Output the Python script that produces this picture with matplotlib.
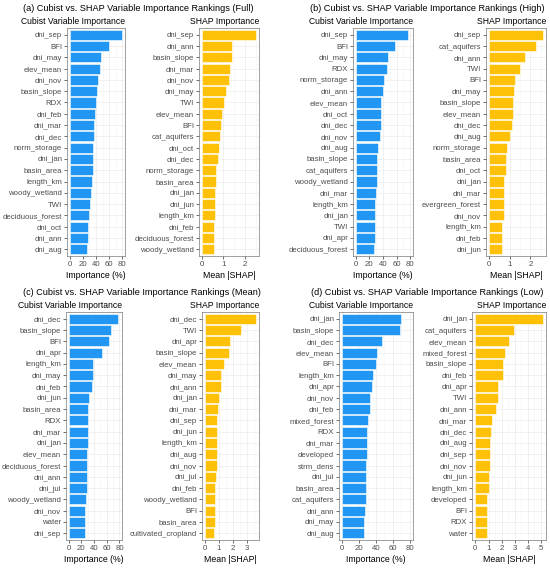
import matplotlib.pyplot as plt

plt.rcParams['font.family'] = ['Liberation Sans', 'DejaVu Sans']

BLUE = "#2196F3"
AMBER = "#FFC107"

# (a) Full
full_cubist_vars = ["dni_sep", "BFI", "dni_may", "elev_mean", "dni_nov", "basin_slope", "RDX",
                    "dni_feb", "dni_mar", "dni_dec", "norm_storage", "dni_jan", "basin_area",
                    "length_km", "woody_wetland", "TWI", "deciduous_forest", "dni_oct",
                    "dni_ann", "dni_aug"]
full_cubist_vals = [79.5, 60, 48, 45.6, 43.7, 40.8, 40.3, 38.3, 36.4, 36.4, 36, 35.4, 35.4,
                    33.5, 32.5, 31.6, 29, 27.7, 27.7, 26.2]
full_shap_vars = ["dni_sep", "dni_ann", "basin_slope", "dni_mar", "dni_nov", "dni_may", "TWI",
                  "elev_mean", "BFI", "cat_aquifers", "dni_oct", "dni_dec", "norm_storage",
                  "basin_area", "dni_jan", "dni_jun", "length_km", "dni_feb",
                  "deciduous_forest", "woody_wetland"]
full_shap_vals = [2.52, 1.42, 1.38, 1.29, 1.28, 1.12, 1.02, 0.92, 0.88, 0.85, 0.82, 0.74, 0.65,
                  0.65, 0.63, 0.63, 0.63, 0.58, 0.58, 0.55]

# (b) High
high_cubist_vars = ["dni_sep", "BFI", "dni_may", "RDX", "norm_storage", "dni_ann", "elev_mean",
                    "dni_oct", "dni_dec", "dni_nov", "dni_aug", "basin_slope", "cat_aquifers",
                    "woody_wetland", "dni_mar", "length_km", "dni_jan", "TWI", "dni_apr",
                    "deciduous_forest"]
high_cubist_vals = [76, 57, 47.8, 45.9, 41, 39.5, 37, 37, 37, 35.6, 32.2, 31.7, 31.2, 30.7,
                    30.2, 28.8, 28.8, 27.8, 27.8, 26.8]
high_shap_vars = ["dni_sep", "cat_aquifers", "dni_ann", "TWI", "BFI", "dni_may", "basin_slope",
                  "elev_mean", "dni_dec", "dni_aug", "norm_storage", "basin_area", "dni_oct",
                  "dni_jan", "dni_mar", "evergreen_forest", "dni_nov", "length_km", "dni_feb",
                  "dni_jun"]
high_shap_vals = [2.62, 2.29, 1.75, 1.48, 1.27, 1.21, 1.17, 1.17, 1.11, 1.02, 0.86, 0.83, 0.81,
                  0.73, 0.71, 0.71, 0.71, 0.65, 0.63, 0.62]

# (c) Mean
mean_cubist_vars = ["dni_dec", "basin_slope", "BFI", "dni_apr", "length_km", "dni_may",
                    "dni_feb", "dni_jun", "basin_area", "RDX", "dni_mar", "dni_jan", "elev_mean",
                    "deciduous_forest", "dni_ann", "dni_jul", "woody_wetland", "dni_nov",
                    "water", "dni_sep"]
mean_cubist_vals = [77.4, 66.8, 64.2, 53.2, 39, 39, 36.3, 32.6, 31, 30.5, 30.5, 30.5, 29.5,
                    29.5, 29, 28.4, 27.4, 26.3, 25.3, 25.3]
mean_shap_vars = ["dni_dec", "TWI", "dni_apr", "basin_slope", "elev_mean", "dni_may", "dni_ann",
                  "dni_jan", "dni_mar", "dni_sep", "dni_jun", "length_km", "dni_aug", "dni_nov",
                  "dni_jul", "dni_feb", "woody_wetland", "BFI", "basin_area",
                  "cultivated_cropland"]
mean_shap_vals = [3.67, 2.57, 1.79, 1.74, 1.36, 1.19, 1.14, 1.02, 0.95, 0.90, 0.88, 0.86, 0.86,
                  0.86, 0.79, 0.74, 0.74, 0.74, 0.71, 0.67]

# (d) Low
low_cubist_vars = ["dni_jan", "basin_slope", "dni_dec", "elev_mean", "BFI", "length_km",
                   "dni_apr", "dni_nov", "dni_feb", "mixed_forest", "RDX", "dni_mar",
                   "developed", "strm_dens", "dni_jul", "basin_area", "cat_aquifers", "dni_ann",
                   "dni_may", "dni_aug"]
low_cubist_vals = [70.3, 68, 47.3, 41.4, 40.2, 36.3, 34.8, 32.8, 32.8, 30.9, 29.7, 29.7, 29.7,
                   28.5, 28.5, 28.5, 27.7, 27, 26.2, 26.2]
low_shap_vars = ["dni_jan", "cat_aquifers", "elev_mean", "mixed_forest", "basin_slope",
                 "dni_feb", "dni_apr", "TWI", "dni_ann", "dni_mar", "dni_dec", "dni_aug",
                 "dni_sep", "dni_nov", "dni_jun", "length_km", "developed", "BFI", "RDX",
                 "water"]
low_shap_vals = [5.12, 2.91, 2.59, 2.24, 2.14, 2.09, 1.72, 1.72, 1.57, 1.24, 1.19, 1.12, 1.12,
                 1.09, 1.02, 1.0, 0.9, 0.9, 0.9, 0.9]

W, H = 550, 568
fig = plt.figure(figsize=(W / 100, H / 100), dpi=100)


def px_axes(x0, x1, y0, y1):
    return fig.add_axes([x0 / W, 1 - y1 / H, (x1 - x0) / W, (y1 - y0) / H])


def bar_panel(ax, names, vals, color, xlim, ticks, minor, xlabel):
    n = len(names)
    pos = list(range(n))[::-1]
    for p in pos:
        ax.axhline(p, color="#EBEBEB", lw=0.5, zorder=0)
    for t in ticks:
        ax.axvline(t, color="#EBEBEB", lw=0.5, zorder=0)
    for t in minor:
        ax.axvline(t, color="#F4F4F4", lw=0.4, zorder=0)
    ax.barh(pos, vals, height=0.9, color=color, edgecolor="white", lw=0.4, zorder=2)
    ax.set_yticks(pos)
    ax.set_yticklabels(names)
    ax.set_ylim(-0.6, n - 0.4)
    ax.set_xlim(*xlim)
    ax.set_xticks(ticks)
    ax.set_xticklabels([str(t) for t in ticks])
    ax.tick_params(labelsize=5.6, labelcolor="#4D4D4D", color="#333333",
                   length=2, width=0.5, pad=1.5)
    for s in ax.spines.values():
        s.set_color("#7A7A7A")
        s.set_linewidth(0.5)
    ax.set_xlabel(xlabel, fontsize=6.3, labelpad=2)


def cubist_panel(ax, names, vals):
    bar_panel(ax, names, vals, BLUE, (-4, 84), [0, 20, 40, 60, 80], [10, 30, 50, 70],
              "Importance (%)")


def shap_panel(ax, names, vals, ticks):
    m = max(vals)
    minor = [t + 0.5 for t in ticks]
    bar_panel(ax, names, vals, AMBER, (-0.05 * m, 1.05 * m), ticks, minor, "Mean |SHAP|")


panels = [
    ("(a) Cubist vs. SHAP Variable Importance Rankings (Full)", 138, 0,
     (67, 125), (199, 259), full_cubist_vars, full_cubist_vals,
     full_shap_vars, full_shap_vals, [0, 1, 2]),
    ("(b) Cubist vs. SHAP Variable Importance Rankings (High)", 427, 0,
     (353, 413), (486, 546), high_cubist_vars, high_cubist_vals,
     high_shap_vars, high_shap_vals, [0, 1, 2]),
    ("(c) Cubist vs. SHAP Variable Importance Rankings (Mean)", 142, 284,
     (66, 122), (202, 259), mean_cubist_vars, mean_cubist_vals,
     mean_shap_vars, mean_shap_vals, [0, 1, 2, 3]),
    ("(d) Cubist vs. SHAP Variable Importance Rankings (Low)", 427, 284,
     (339, 413), (472, 546), low_cubist_vars, low_cubist_vals,
     low_shap_vars, low_shap_vals, [0, 1, 2, 3, 4, 5]),
]

for title, tx, oy, lx, rx, cv, cvals, sv, svals, sticks in panels:
    ax1 = px_axes(lx[0], lx[1], oy + 28, oy + 256)
    cubist_panel(ax1, cv, cvals)
    ax2 = px_axes(rx[0], rx[1], oy + 28, oy + 256)
    shap_panel(ax2, sv, svals, sticks)
    fig.text(tx / W, 1 - (oy + 11) / H, title, ha="center", va="baseline", fontsize=6.6)
    fig.text(lx[1] / W, 1 - (oy + 24) / H, "Cubist Variable Importance", ha="right",
             va="baseline", fontsize=6.2)
    fig.text(rx[1] / W, 1 - (oy + 24) / H, "SHAP Importance", ha="right",
             va="baseline", fontsize=6.2)

fig.savefig("out.png", dpi=100)
